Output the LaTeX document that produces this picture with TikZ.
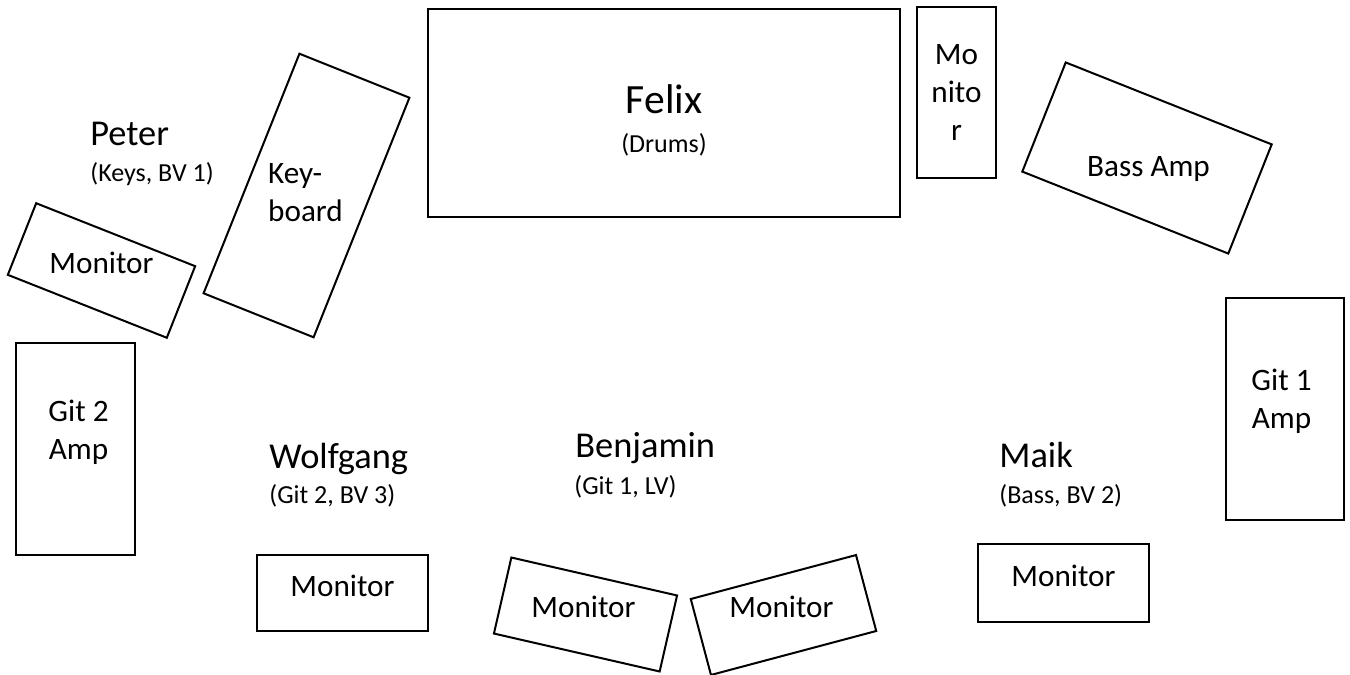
\documentclass[tikz,border=0pt]{standalone}
\usepackage{fontspec}
\setmainfont{Carlito}
\usetikzlibrary{calc}
\tikzset{
    % Outline of a piece of gear standing on the stage
    gear box/.style={draw, line width=1pt, rectangle, inner sep=0},
%
    % Text written on the gear
    gear text/.style={font=\fontsize{15.6}{19}\selectfont, align=center,
        inner sep=0},
%
    % Name of a band member, and what he plays and sings
    member/.style={font=\fontsize{18.2}{22}\selectfont, anchor=base west,
        inner sep=0},
    role/.style={font=\fontsize{13}{16}\selectfont, anchor=base west,
        inner sep=0}}

\begin{document}
\begin{tikzpicture}[x=0.5pt, y=-0.5pt]
\useasboundingbox (0,0) rectangle (1350,675);

% Drums at the back, with their monitor beside them
\node[gear box, minimum width=236pt, minimum height=104pt] (felix) at (664,113) {};
\node[member, anchor=base, font=\fontsize{20.8}{25}\selectfont]
    (felix name) at (felix) {Felix};
\node[role, anchor=base] (felix role) at ($(felix)+(0,39)$) {(Drums)};

\node[gear box, minimum width=39.5pt, minimum height=85.5pt]
    (drum monitor) at (956.5,92.5) {};
\node[gear text] (drum monitor text) at (drum monitor) {Mo\\nito\\r};

% Bass amp, turned towards the middle
\node[gear box, rotate=-21.7, minimum width=110.85pt, minimum height=58.75pt]
    (bass amp) at (1147,158) {};
\node[gear text] (bass amp text) at ($(bass amp)+(1.5,11)$) {Bass Amp};

% Peter with his keyboard and monitor
\node[member] (peter) at (90,145) {Peter};
\node[role] (peter role) at ($(peter.base west)+(0,36)$) {(Keys, BV 1)};

\node[gear box, rotate=-21.8, minimum width=59.25pt, minimum height=129pt]
    (keyboard) at (306.5,195.5) {};
\node[gear text, align=left] (keyboard text) at ($(keyboard)+(-1,-3)$) {Key-\\board};

\node[gear box, rotate=-21.6, minimum width=85.5pt, minimum height=38.5pt]
    (peter monitor) at (101.5,270.5) {};
\node[gear text] (peter monitor text) at ($(peter monitor)+(0,-7.5)$) {Monitor};

% Wolfgang with the Git 2 amp
\node[gear box, minimum width=59.5pt, minimum height=106pt] (git2 amp) at (75.5,449) {};
\node[gear text] (git2 amp text) at ($(git2 amp)+(3,-17)$) {Git 2\\Amp};

\node[member] (wolfgang) at (269,468) {Wolfgang};
\node[role] (wolfgang role) at ($(wolfgang.base west)+(0,35)$) {(Git 2, BV 3)};

\node[gear box, minimum width=85.5pt, minimum height=38pt]
    (wolfgang monitor) at (342.5,593) {};
\node[gear text] (wolfgang monitor text) at ($(wolfgang monitor)+(0,-7)$) {Monitor};

% Benjamin in front, with two monitors
\node[member] (benjamin) at (575,457) {Benjamin};
\node[role] (benjamin role) at ($(benjamin.base west)+(-1,37)$) {(Git 1, LV)};

\node[gear box, rotate=-12.9, minimum width=85pt, minimum height=39pt]
    (benjamin left monitor) at (585.5,614.5) {};
\node[gear text] (benjamin left text) at ($(benjamin left monitor)+(-2,-8)$) {Monitor};

\node[gear box, rotate=14.9, minimum width=85.5pt, minimum height=39.3pt]
    (benjamin right monitor) at (783.5,615) {};
\node[gear text] (benjamin right text) at ($(benjamin right monitor)+(-2,-8.5)$) {Monitor};

% Maik, and the Git 1 amp at the side
\node[member] (maik) at (999,467) {Maik};
\node[role] (maik role) at ($(maik.base west)+(0,36)$) {(Bass, BV 2)};

\node[gear box, minimum width=85.5pt, minimum height=39pt]
    (maik monitor) at (1063.5,583) {};
\node[gear text] (maik monitor text) at ($(maik monitor)+(0,-7)$) {Monitor};

\node[gear box, minimum width=59pt, minimum height=111pt] (git1 amp) at (1285,409) {};
\node[gear text] (git1 amp text) at ($(git1 amp)+(-3.5,-7.5)$) {Git 1\\Amp};

\end{tikzpicture}
\end{document}
